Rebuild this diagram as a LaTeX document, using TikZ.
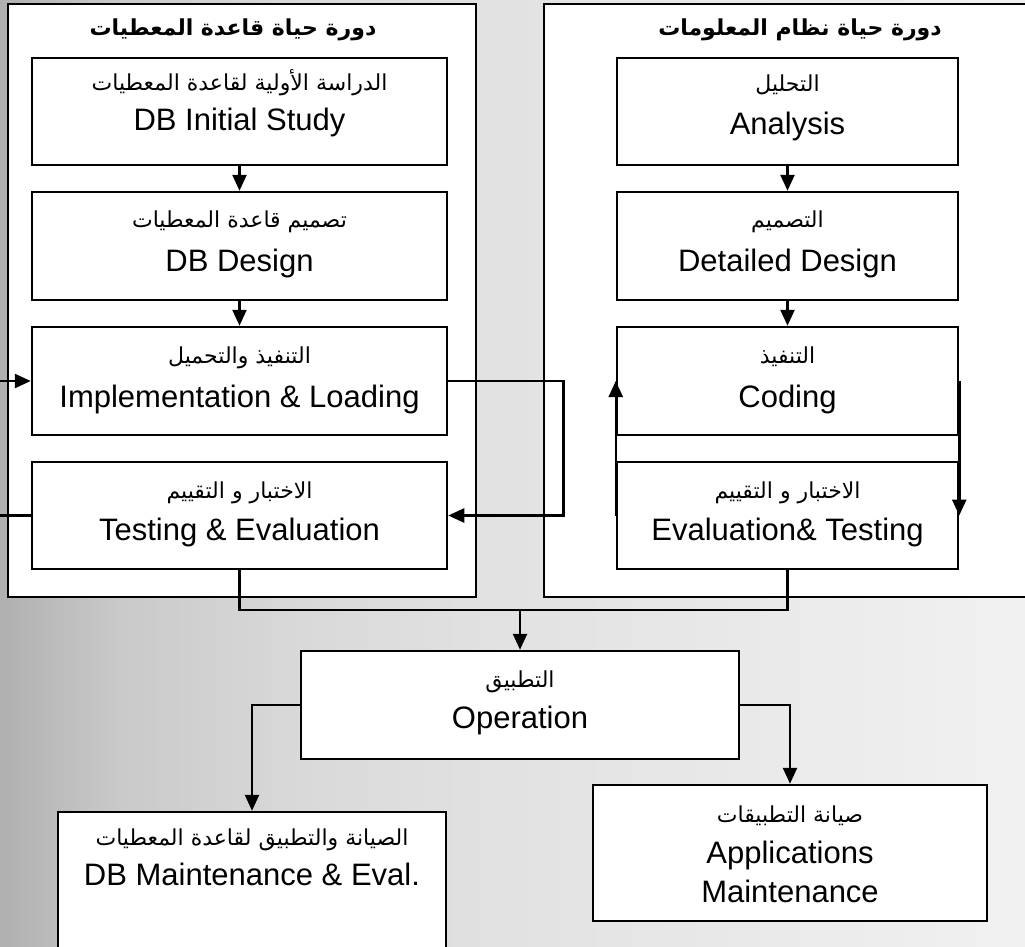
\documentclass[tikz,border=0pt]{standalone}
\usepackage{fontspec}
\setmainfont{Liberation Sans}
\newfontfamily\arfont[Script=Arabic]{DejaVu Sans}
\TeXXeTstate=1
\usetikzlibrary{arrows.meta}
\definecolor{bgA}{gray}{0.69}
\definecolor{bgB}{gray}{0.79}
\definecolor{bgC}{gray}{0.85}
\definecolor{bgD}{gray}{0.885}
\definecolor{bgE}{gray}{0.92}
\definecolor{bgF}{gray}{0.945}
\pgfdeclarehorizontalshading{bgshade}{100bp}{color(0bp)=(bgA); color(25bp)=(bgA); color(30.85bp)=(bgB); color(39.6bp)=(bgC); color(49.4bp)=(bgD); color(64bp)=(bgE); color(75bp)=(bgF); color(100bp)=(bgF)}
\tikzset{
  box/.style={draw, line width=2.5pt, fill=white, inner sep=0pt},
  en/.style={font=\fontsize{31}{36}\selectfont, anchor=base, inner sep=0pt},
  arl/.style={font=\arfont\fontsize{22}{27}\selectfont, anchor=base, inner sep=0pt},
  artitle/.style={font=\arfont\bfseries\fontsize{22}{27}\selectfont, anchor=base, inner sep=0pt},
  arr/.style={line width=2.5pt, -{Triangle[length=16pt,width=14pt]}},
  conn/.style={line width=2.5pt}
}
\begin{document}
\begin{tikzpicture}[x=1pt,y=-1pt]
\useasboundingbox (0,0) rectangle (1025,947);
\clip (0,0) rectangle (1025,947);
\shade[shading=bgshade] (0,0) rectangle (1025,947);

% containers
\node[box, minimum width=468pt, minimum height=593pt] (Lc) at (242,300.5) {};
\node[box, minimum width=516pt, minimum height=593pt] (Rc) at (802,300.5) {};
\node[artitle] (Lt) at (233,36) {\beginR دورة حياة قاعدة المعطيات\endR};
\node[artitle] (Rt) at (800,36) {\beginR دورة حياة نظام المعلومات\endR};

% left column
\node[box, minimum width=415pt, minimum height=107pt] (L1) at (239.5,111.5) {};
\node[box, minimum width=415pt, minimum height=108pt] (L2) at (239.5,246) {};
\node[box, minimum width=415pt, minimum height=108pt] (L3) at (239.5,381) {};
\node[box, minimum width=415pt, minimum height=107pt] (L4) at (239.5,515.5) {};
\node[arl] (L1a) at (239.5,91) {\beginR الدراسة الأولية لقاعدة المعطيات\endR};
\node[en]  (L1e) at (239.5,131) {DB Initial Study};
\node[arl] (L2a) at (239.5,227) {\beginR تصميم قاعدة المعطيات\endR};
\node[en]  (L2e) at (239.5,271) {DB Design};
\node[arl] (L3a) at (239.5,363) {\beginR التنفيذ والتحميل\endR};
\node[en]  (L3e) at (239.5,407) {Implementation \& Loading};
\node[arl] (L4a) at (239.5,498) {\beginR الاختبار و التقييم\endR};
\node[en]  (L4e) at (239.5,540) {Testing \& Evaluation};

% right column
\node[box, minimum width=341pt, minimum height=107pt] (R1) at (787.5,111.5) {};
\node[box, minimum width=341pt, minimum height=108pt] (R2) at (787.5,246) {};
\node[box, minimum width=341pt, minimum height=108pt] (R3) at (787.5,381) {};
\node[box, minimum width=341pt, minimum height=107pt] (R4) at (787.5,515.5) {};
\node[arl] (R1a) at (787.5,92) {\beginR التحليل\endR};
\node[en]  (R1e) at (787.5,135) {Analysis};
\node[arl] (R2a) at (787.5,227) {\beginR التصميم\endR};
\node[en]  (R2e) at (787.5,271) {Detailed Design};
\node[arl] (R3a) at (787.5,363) {\beginR التنفيذ\endR};
\node[en]  (R3e) at (787.5,407) {Coding};
\node[arl] (R4a) at (787.5,498) {\beginR الاختبار و التقييم\endR};
\node[en]  (R4e) at (787.5,540) {Evaluation\& Testing};

% bottom
\node[box, minimum width=438pt, minimum height=108pt] (Op) at (520,705) {};
\node[arl] (Opa) at (520,687) {\beginR التطبيق\endR};
\node[en]  (Ope) at (520,728) {Operation};
\node[box, minimum width=388pt, minimum height=148pt] (DBM) at (252,886) {};
\node[arl] (DBMa) at (252,845) {\beginR الصيانة والتطبيق لقاعدة المعطيات\endR};
\node[en]  (DBMe) at (252,885) {DB Maintenance \& Eval.};
\node[box, minimum width=394pt, minimum height=136pt] (AM) at (790,853) {};
\node[arl] (AMa) at (790,822) {\beginR صيانة التطبيقات\endR};
\node[en]  (AMe1) at (790,863) {Applications};
\node[en]  (AMe2) at (790,902) {Maintenance};

% connectors
\draw[arr] (L1) -- (L2);
\draw[arr] (L2) -- (L3);
\draw[arr] (R1) -- (R2);
\draw[arr] (R2) -- (R3);
\draw[arr] (L3.east) -- ++(115,0) |- (L4.east);
\draw[arr] (L4.west) -- ++(-60,0) |- (L3.west);
\draw[arr] (R4.west) -- (R3.west);
\draw[arr] (R3.east) -- (R4.east);
\coordinate (J) at (520,610);
\draw[conn] (L4.south) |- (J) -| (R4.south);
\draw[arr] (J) -- (Op.north);
\draw[arr] (Op.west) -| (DBM.north);
\draw[arr] (Op.east) -| (AM.north);
\end{tikzpicture}
\end{document}
